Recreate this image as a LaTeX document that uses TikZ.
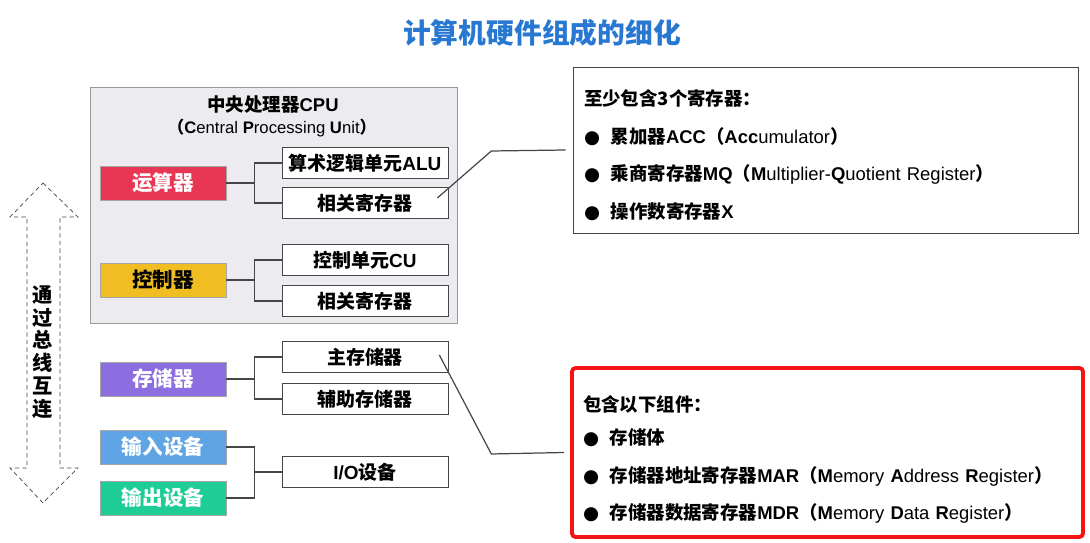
\documentclass[tikz,border=0pt]{standalone}
\usepackage{fontspec}
\setmainfont{Liberation Sans}
\newfontfamily\cjk{Noto Sans CJK SC}
\newfontfamily\dotfont{DejaVu Sans}
\usepackage{tikz}
\usetikzlibrary{positioning}
\definecolor{titleblue}{RGB}{40,120,210}
\definecolor{calcred}{RGB}{232,55,85}
\definecolor{ctrlyellow}{RGB}{240,190,35}
\definecolor{mempurple}{RGB}{140,110,225}
\definecolor{inblue}{RGB}{95,165,230}
\definecolor{outgreen}{RGB}{30,205,150}
\definecolor{cpugray}{RGB}{236,236,240}
\definecolor{darkgray}{RGB}{70,70,70}
\definecolor{hlred}{RGB}{245,20,20}
\newcommand{\zh}[1]{{\cjk\bfseries #1}}
\newcommand{\la}[1]{{\rmfamily #1}}
\newcommand{\itemdot}{{\dotfont ●}\hspace{6pt}}
\tikzset{
  unit/.style={rectangle, draw=gray!70, text=white,
               minimum width=2.52cm, minimum height=0.68cm,
               font=\cjk\bfseries\fontsize{11.7}{14}\selectfont},
  part/.style={rectangle, draw=darkgray, fill=white,
               minimum width=3.32cm, minimum height=0.62cm,
               font=\cjk\bfseries\fontsize{10.8}{13}\selectfont},
  note/.style={rectangle, draw=darkgray, align=left, inner xsep=0.22cm,
               font=\fontsize{10.5}{21.5}\selectfont},
  link/.style={draw=darkgray, line width=0.7pt}
}
\begin{document}
\begin{tikzpicture}[x=0.02cm, y=-0.02cm]
  \useasboundingbox (0,0) rectangle (1090,543);

  % title
  \node[text=titleblue, font=\cjk\bfseries\fontsize{15.8}{18}\selectfont]
    (title) at (542,33) {计算机硬件组成的细化};

  % CPU frame
  \node[rectangle, draw=gray!80, fill=cpugray,
        minimum width=7.34cm, minimum height=4.72cm]
    (cpu) at (273.5,205) {};
  \node[font=\cjk\bfseries\fontsize{10.5}{13}\selectfont]
    (cputitle) at (273,105) {中央处理器\la{CPU}};
  \node[font=\fontsize{9.5}{12}\selectfont]
    (cpusub) at (272,128) {\zh{（}\textbf{C}entral \textbf{P}rocessing \textbf{U}nit\zh{）}};

  % units on the left
  \node[unit, fill=calcred]    (calc) at (163,183) {运算器};
  \node[unit, fill=ctrlyellow, text=black] (ctrl) at (163,280) {控制器};
  \node[unit, fill=mempurple]  (mem)  at (163,379) {存储器};
  \node[unit, fill=inblue]     (inp)  at (163,447) {输入设备};
  \node[unit, fill=outgreen]   (outp) at (163,498) {输出设备};

  % parts
  \node[part] (alu)     at (365,163) {算术逻辑单元\la{ALU}};
  \node[part] (calcreg) at (365,203) {相关寄存器};
  \node[part] (cu)      at (365,260) {控制单元\la{CU}};
  \node[part] (ctrlreg) at (365,301) {相关寄存器};
  \node[part] (mainmem) at (365,357) {主存储器};
  \node[part] (auxmem)  at (365,399) {辅助存储器};
  \node[part] (io)      at (365,472) {\la{I/O}设备};

  % tree links
  \draw[link] (calc.east) -- ++(28,0) |- (alu.west);
  \draw[link] (calc.east) -- ++(28,0) |- (calcreg.west);
  \draw[link] (ctrl.east) -- ++(28,0) |- (cu.west);
  \draw[link] (ctrl.east) -- ++(28,0) |- (ctrlreg.west);
  \draw[link] (mem.east)  -- ++(28,0) |- (mainmem.west);
  \draw[link] (mem.east)  -- ++(28,0) |- (auxmem.west);
  \draw[link] (inp.east)  -- ++(28,0) |- (outp.east);
  \draw[link] (io.west)   -- ++(-28,0);

  % bus arrow
  \draw[darkgray, thin, dash pattern=on 2.5pt off 1.8pt]
    (43,183) -- (78,217) -- (60,217) -- (60,468) -- (78,468) -- (43,503)
    -- (10,468) -- (27,468) -- (27,217) -- (10,217) -- cycle;
  \node[font=\cjk\bfseries\fontsize{11.5}{13}\selectfont, align=center]
    (bus) at (43,352) {通\\过\\总\\线\\互\\连};

  % register note
  \node[note, minimum width=10.1cm, minimum height=3.32cm, text width=9.66cm]
    (regs) at (825.5,150) {\rule{0pt}{15pt}\zh{至少包含3个寄存器：}\\
    \itemdot\zh{累加器}\textbf{ACC}\zh{（}\textbf{Acc}umulator\zh{）}\\
    \itemdot\zh{乘商寄存器}\textbf{MQ}\zh{（}\textbf{M}ultiplier-\textbf{Q}uotient Register\zh{）}\\
    \itemdot\zh{操作数寄存器}\textbf{X}};

  % memory note
  \node[note, draw=hlred, line width=2.2pt, rounded corners=2pt,
        minimum width=10.22cm, minimum height=3.38cm, text width=9.78cm]
    (mems) at (827.5,452.5) {\rule{0pt}{17pt}\zh{包含以下组件：}\\[-2.5pt]
    \itemdot\zh{存储体}\\
    \itemdot\zh{存储器地址寄存器}\textbf{MAR}\zh{（}\textbf{M}emory \textbf{A}ddress \textbf{R}egister\zh{）}\\
    \itemdot\zh{存储器数据寄存器}\textbf{MDR}\zh{（}\textbf{M}emory \textbf{D}ata \textbf{R}egister\zh{）}};

  % leader lines
  \coordinate (regtip) at ([shift={(-11,-5)}]calcreg.east);
  \coordinate (memtip) at ([shift={(-9,-2)}]mainmem.east);
  \draw[link] (regtip) -- ++(54,-47) -- ([xshift=-0.14cm]regs.west);
  \draw[link] (memtip) -- ++(52,99) -- ([xshift=-0.12cm]mems.west);

\end{tikzpicture}
\end{document}
